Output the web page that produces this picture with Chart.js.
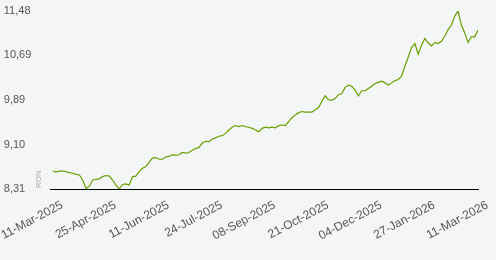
<html>
<head>
<script src="https://cdn.jsdelivr.net/npm/chart.js@4.4.0/dist/chart.umd.min.js"></script>
<style>
  body { margin: 0; background: #f4f5f7; }
</style>
</head>
<body>
<canvas id="myChart" width="496" height="260"></canvas>
<script>
// tick labels on the date axis, one every 16 points
const tickLabels = [
    "11-Mar-2025", "25-Apr-2025", "11-Jun-2025", "24-Jul-2025", "08-Sep-2025",
    "21-Oct-2025", "04-Dec-2025", "27-Jan-2026", "11-Mar-2026"
];
const tickStep = 16;

// value axis ticks (RON)
const yTicks = [8.31, 9.10, 9.89, 10.69, 11.48];

// price series
const values = [
    8.63, 8.61, 8.63, 8.63, 8.62, 8.60, 8.59, 8.57, 8.56, 8.47,
    8.32, 8.36, 8.47, 8.48, 8.49, 8.53, 8.55, 8.54, 8.47, 8.38,
    8.31, 8.39, 8.40, 8.38, 8.53, 8.54, 8.62, 8.68, 8.71, 8.79,
    8.86, 8.87, 8.84, 8.84, 8.88, 8.89, 8.92, 8.91, 8.92, 8.96,
    8.95, 8.96, 9.00, 9.03, 9.05, 9.13, 9.16, 9.15, 9.20, 9.22,
    9.25, 9.26, 9.30, 9.36, 9.41, 9.44, 9.42, 9.44, 9.42, 9.41,
    9.39, 9.36, 9.33, 9.39, 9.41, 9.40, 9.41, 9.40, 9.44, 9.45,
    9.44, 9.51, 9.58, 9.63, 9.67, 9.69, 9.68, 9.68, 9.68, 9.72,
    9.76, 9.87, 9.97, 9.90, 9.89, 9.92, 9.99, 10.01, 10.12, 10.16,
    10.14, 10.07, 9.97, 10.06, 10.06, 10.10, 10.14, 10.19, 10.21, 10.23,
    10.20, 10.16, 10.20, 10.24, 10.26, 10.32, 10.50, 10.66, 10.83, 10.90,
    10.71, 10.87, 10.99, 10.91, 10.86, 10.92, 10.90, 10.94, 11.03, 11.15,
    11.23, 11.39, 11.48, 11.23, 11.09, 10.92, 11.02, 11.02, 11.14
];

// labels sit a little right of their point in the original
const labelShift = 2.8;

const ronTitle = {
    id: "ronTitle",
    afterDraw(chart) {
        const ctx = chart.ctx;
        ctx.save();
        ctx.translate(39, 188);
        ctx.rotate(-Math.PI / 2);
        ctx.font = "8px 'Liberation Sans'";
        ctx.fillStyle = "#aaaaaa";
        ctx.textAlign = "left";
        ctx.textBaseline = "middle";
        ctx.fillText("RON", 0, 0);
        ctx.restore();
    }
};

let myChart = new Chart("myChart", {
    type: "line",
    data: {
        datasets: [{
            data: values.map((v, i) => ({ x: i, y: v })),
            borderColor: "#66a000",
            borderWidth: 1.2,
            pointRadius: 0,
            tension: 0,
            fill: false
        }]
    },
    options: {
        responsive: false,
        animation: false,
        devicePixelRatio: 1,
        layout: { padding: { top: 11, right: 18, left: 0, bottom: 0 } },
        plugins: { legend: { display: false }, tooltip: { enabled: false } },
        scales: {
            x: {
                type: "linear",
                min: -0.6,
                max: values.length - 1,
                grid: { display: false },
                border: { display: true, color: "#000000", width: 1 },
                afterBuildTicks: (scale) => {
                    scale.ticks = tickLabels.map((l, i) => ({ value: i * tickStep + labelShift }));
                },
                afterFit: (scale) => { scale.height = 71; },
                ticks: {
                    autoSkip: false,
                    maxRotation: 28,
                    minRotation: 28,
                    padding: 1,
                    color: "#555555",
                    font: { family: "'Liberation Sans'", size: 12 },
                    callback: (v, i) => tickLabels[i]
                }
            },
            y: {
                min: yTicks[0],
                max: yTicks[yTicks.length - 1],
                grid: { display: false },
                border: { display: false },
                afterBuildTicks: (scale) => {
                    scale.ticks = yTicks.map(v => ({ value: v }));
                },
                afterFit: (scale) => { scale.width = 47; },
                ticks: {
                    crossAlign: "far",
                    color: "#555555",
                    font: { family: "'Liberation Sans'", size: 11 },
                    callback: (v) => v.toFixed(2).replace(".", ",")
                }
            }
        }
    },
    plugins: [ronTitle]
});
</script>
</body>
</html>
